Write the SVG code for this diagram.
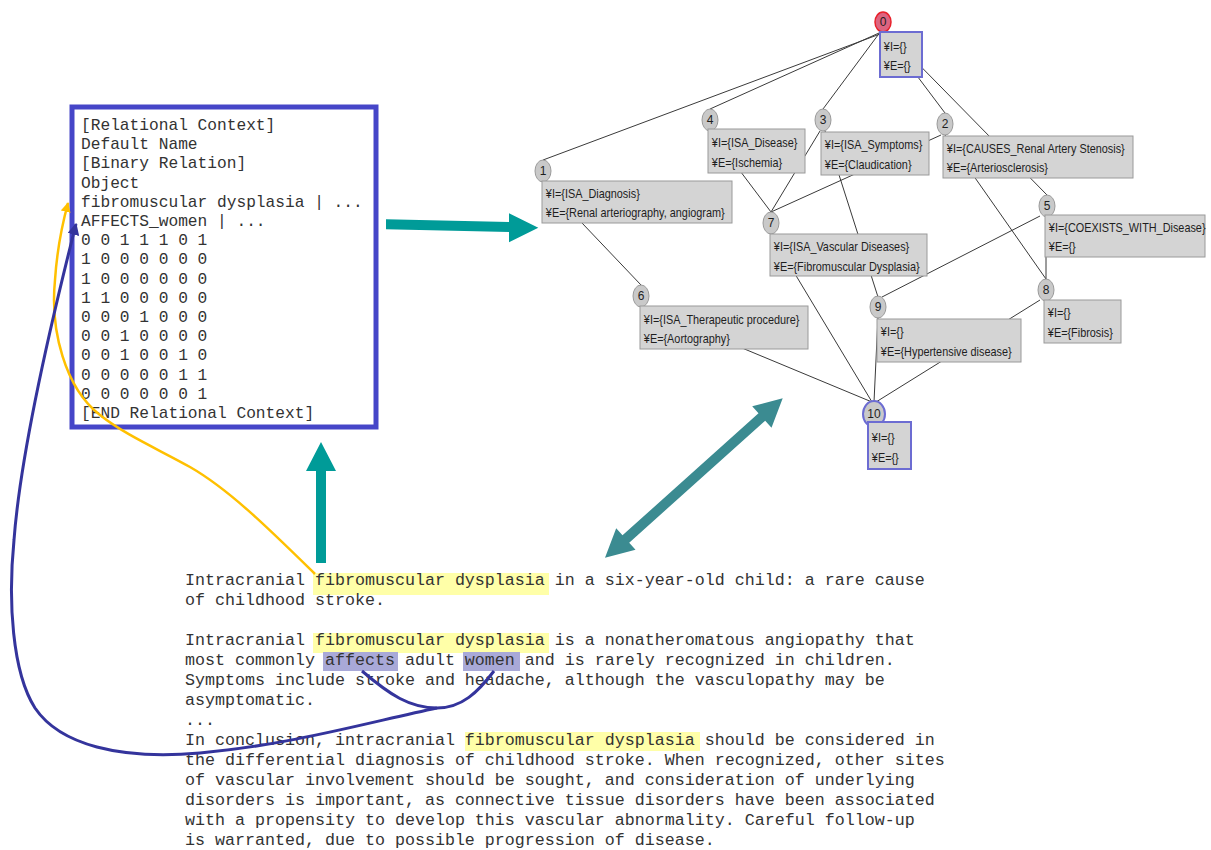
<svg xmlns="http://www.w3.org/2000/svg" width="1211" height="850" viewBox="0 0 1211 850">
<style>
.edge{stroke:#3a3a3a;stroke-width:1;fill:none}
.box{fill:#d4d4d4;stroke:#9a9a9a;stroke-width:1}
.sel{fill:#d4d4d4;stroke:#6c6cd2;stroke-width:2}
.circ{fill:#c9c9c9;stroke:#9a9a9a;stroke-width:1}
.lt{font-family:"Liberation Sans",Arial,sans-serif;font-size:12.5px;fill:#1e1e1e;transform-box:fill-box;transform-origin:0 0;transform:scaleX(0.87)}
.num{font-family:"Liberation Sans",Arial,sans-serif;font-size:12px;fill:#1e1e1e;text-anchor:middle}
.mono{font-family:"Liberation Mono","Courier New",monospace;fill:#333}
.ctx{font-size:16.2px}
.doc{font-size:16.67px}
.hy{fill:#ffffa8}
.hp{fill:#a9a9d8}
</style>
<defs>
<marker id="ay" viewBox="0 0 10 10" refX="9" refY="5" markerWidth="4" markerHeight="4" orient="auto"><path d="M0,0 L10,5 L0,10 z" fill="#ffc000"/></marker>
<marker id="ab" viewBox="0 0 10 10" refX="9" refY="5" markerWidth="4" markerHeight="4" orient="auto"><path d="M0,0 L10,5 L0,10 z" fill="#34349c"/></marker>
</defs>

<rect width="1211" height="850" fill="#ffffff"/>

<!-- lattice connectors -->
<g id="connectors">
<line class="edge" x1="880" y1="34" x2="543" y2="160"/>
<line class="edge" x1="879" y1="33" x2="710" y2="109"/>
<line class="edge" x1="881" y1="31" x2="823" y2="109"/>
<line class="edge" x1="884" y1="32" x2="945" y2="113"/>
<line class="edge" x1="886" y1="31" x2="1047" y2="195"/>
<line class="edge" x1="543" y1="182" x2="641" y2="285"/>
<line class="edge" x1="710" y1="131" x2="771" y2="212"/>
<line class="edge" x1="820" y1="131" x2="771" y2="212"/>
<line class="edge" x1="941" y1="135" x2="771" y2="212"/>
<line class="edge" x1="825" y1="131" x2="878" y2="297"/>
<line class="edge" x1="945" y1="135" x2="1046" y2="279"/>
<line class="edge" x1="1046" y1="217" x2="1046" y2="279"/>
<line class="edge" x1="1040" y1="216" x2="882" y2="297"/>
<line class="edge" x1="771" y1="234" x2="872" y2="402"/>
<line class="edge" x1="641" y1="306" x2="872" y2="402"/>
<line class="edge" x1="878" y1="317" x2="874" y2="402"/>
<line class="edge" x1="1040" y1="300" x2="876" y2="402"/>
</g>

<!-- lattice nodes -->
<g id="node0">
<ellipse cx="883" cy="22" rx="8" ry="10" fill="#dc6480" stroke="#e8202a" stroke-width="1.5"/>
<text class="num" x="883" y="26">0</text>
<rect class="sel" x="880" y="32" width="42" height="45"/>
<text class="lt" x="884" y="51">¥I={}</text>
<text class="lt" x="884" y="70">¥E={}</text>
</g>
<g id="node1">
<ellipse class="circ" cx="543" cy="171" rx="8" ry="11"/>
<text class="num" x="543" y="175">1</text>
<rect class="box" x="542" y="181" width="190" height="42"/>
<text class="lt" x="546" y="198">¥I={ISA_Diagnosis}</text>
<text class="lt" x="546" y="217">¥E={Renal arteriography, angiogram}</text>
</g>
<g id="node4">
<ellipse class="circ" cx="710" cy="120" rx="8" ry="11"/>
<text class="num" x="710" y="124">4</text>
<rect class="box" x="708" y="129" width="97" height="44"/>
<text class="lt" x="712" y="147">¥I={ISA_Disease}</text>
<text class="lt" x="712" y="167">¥E={Ischemia}</text>
</g>
<g id="node3">
<ellipse class="circ" cx="823" cy="120" rx="8" ry="11"/>
<text class="num" x="823" y="124">3</text>
<rect class="box" x="821" y="132" width="108" height="43"/>
<text class="lt" x="825" y="149">¥I={ISA_Symptoms}</text>
<text class="lt" x="825" y="169">¥E={Claudication}</text>
</g>
<g id="node2">
<ellipse class="circ" cx="945" cy="124" rx="8" ry="11"/>
<text class="num" x="945" y="128">2</text>
<rect class="box" x="943" y="136" width="190" height="42"/>
<text class="lt" x="947" y="153">¥I={CAUSES_Renal Artery Stenosis}</text>
<text class="lt" x="947" y="172">¥E={Arteriosclerosis}</text>
</g>
<g id="node5">
<ellipse class="circ" cx="1047" cy="206" rx="8" ry="11"/>
<text class="num" x="1047" y="210">5</text>
<rect class="box" x="1045" y="215" width="160" height="42"/>
<text class="lt" x="1049" y="232">¥I={COEXISTS_WITH_Disease}</text>
<text class="lt" x="1049" y="251">¥E={}</text>
</g>
<g id="node7">
<ellipse class="circ" cx="771" cy="223" rx="8" ry="11"/>
<text class="num" x="771" y="227">7</text>
<rect class="box" x="770" y="234" width="157" height="42"/>
<text class="lt" x="774" y="251">¥I={ISA_Vascular Diseases}</text>
<text class="lt" x="774" y="271">¥E={Fibromuscular Dysplasia}</text>
</g>
<g id="node6">
<ellipse class="circ" cx="641" cy="296" rx="8" ry="11"/>
<text class="num" x="641" y="300">6</text>
<rect class="box" x="640" y="306" width="168" height="43"/>
<text class="lt" x="644" y="324">¥I={ISA_Therapeutic procedure}</text>
<text class="lt" x="644" y="343">¥E={Aortography}</text>
</g>
<g id="node9">
<ellipse class="circ" cx="878" cy="307" rx="8" ry="11"/>
<text class="num" x="878" y="311">9</text>
<rect class="box" x="877" y="319" width="144" height="43"/>
<text class="lt" x="881" y="336">¥I={}</text>
<text class="lt" x="881" y="356">¥E={Hypertensive disease}</text>
</g>
<g id="node8">
<ellipse class="circ" cx="1046" cy="290" rx="8" ry="11"/>
<text class="num" x="1046" y="294">8</text>
<rect class="box" x="1044" y="300" width="77" height="43"/>
<text class="lt" x="1048" y="317">¥I={}</text>
<text class="lt" x="1048" y="337">¥E={Fibrosis}</text>
</g>
<g id="node10">
<ellipse cx="874" cy="414" rx="11" ry="13" fill="#c9c9c9" stroke="#6c6cd2" stroke-width="2"/>
<text class="num" x="874" y="418">10</text>
<rect class="sel" x="868" y="422" width="43" height="47"/>
<text class="lt" x="872" y="442">¥I={}</text>
<text class="lt" x="872" y="462">¥E={}</text>
</g>

<!-- relational context box -->
<g id="context">
<rect x="72" y="107" width="304" height="320" fill="#ffffff" stroke="#4646c8" stroke-width="5"/>
<g class="mono ctx">
<text x="81" y="130">[Relational Context]</text>
<text x="81" y="149.2">Default Name</text>
<text x="81" y="168.4">[Binary Relation]</text>
<text x="81" y="187.6">Object</text>
<text x="81" y="206.8">fibromuscular dysplasia | ...</text>
<text x="81" y="226">AFFECTS_women | ...</text>
<text x="81" y="245.2">0 0 1 1 1 0 1</text>
<text x="81" y="264.4">1 0 0 0 0 0 0</text>
<text x="81" y="283.6">1 0 0 0 0 0 0</text>
<text x="81" y="302.8">1 1 0 0 0 0 0</text>
<text x="81" y="322">0 0 0 1 0 0 0</text>
<text x="81" y="341.2">0 0 1 0 0 0 0</text>
<text x="81" y="360.4">0 0 1 0 0 1 0</text>
<text x="81" y="379.6">0 0 0 0 0 1 1</text>
<text x="81" y="398.8">0 0 0 0 0 0 1</text>
<text x="81" y="418">[END Relational Context]</text>
</g>
</g>

<!-- document text -->
<g id="document">
<rect class="hy" x="313" y="573" width="236" height="22"/>
<rect class="hy" x="313" y="633" width="236" height="20"/>
<rect class="hp" x="323" y="652" width="75" height="19"/>
<rect class="hp" x="463" y="652" width="57" height="19"/>
<rect class="hy" x="465" y="732" width="235" height="19"/>
<g class="mono doc">
<text x="185" y="585">Intracranial fibromuscular dysplasia in a six-year-old child: a rare cause</text>
<text x="185" y="605">of childhood stroke.</text>
<text x="185" y="645">Intracranial fibromuscular dysplasia is a nonatheromatous angiopathy that</text>
<text x="185" y="665">most commonly affects adult women and is rarely recognized in children.</text>
<text x="185" y="685">Symptoms include stroke and headache, although the vasculopathy may be</text>
<text x="185" y="705">asymptomatic.</text>
<text x="185" y="725">...</text>
<text x="185" y="745">In conclusion, intracranial fibromuscular dysplasia should be considered in</text>
<text x="185" y="765">the differential diagnosis of childhood stroke. When recognized, other sites</text>
<text x="185" y="785">of vascular involvement should be sought, and consideration of underlying</text>
<text x="185" y="805">disorders is important, as connective tissue disorders have been associated</text>
<text x="185" y="825">with a propensity to develop this vascular abnormality. Careful follow-up</text>
<text x="185" y="845">is warranted, due to possible progression of disease.</text>
</g>
</g>

<!-- arrows and link curves -->
<g id="links">
<polygon fill="#009b98" points="386,219.3 509,222 509,213.3 538.3,227.7 509,242.3 509,232 386,229.3"/>
<polygon fill="#009b98" points="321,442 336,471 326,471 326,563 316,563 316,471 306,471"/>
<polygon fill="#3b8b91" points="782.7,398.3 752.2,406.2 758.5,413.3 622.5,535.3 616.2,528.2 605,557.7 635.5,549.8 629.2,542.7 765.2,420.7 771.5,427.8"/>
<path d="M315,574 C270,530 230,490 190,467 C160,450 125,435 100,415 C65,388 50,330 55,280 C57,250 62,225 68,203" fill="none" stroke="#ffc000" stroke-width="2.5" marker-end="url(#ay)"/>
<path d="M362,671 C390,695 410,708 437,708 C462,708 478,692 494,671" fill="none" stroke="#34349c" stroke-width="3"/>
<path d="M437,708 C370,722 290,745 200,753 C120,760 60,745 35,708 C12,672 8,600 14,540 C20,460 44,350 76,224" fill="none" stroke="#34349c" stroke-width="3" marker-end="url(#ab)"/>
</g>
</svg>
